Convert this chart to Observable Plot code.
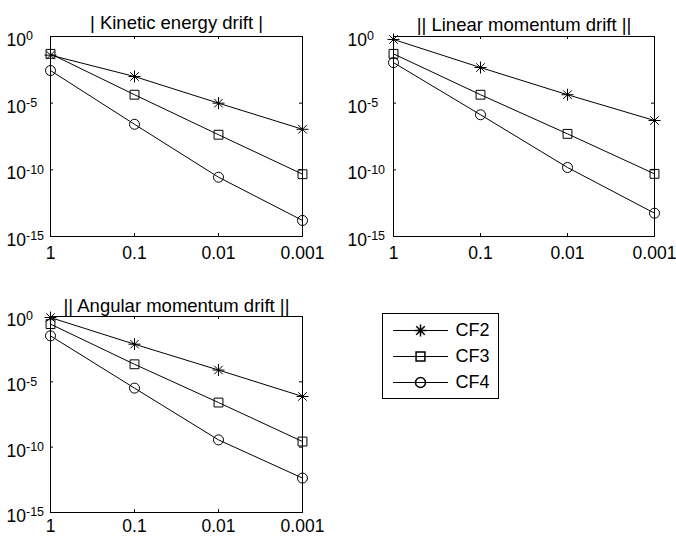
<!DOCTYPE html>
<html>
<head>
<meta charset="utf-8">
<script src="https://cdn.jsdelivr.net/npm/d3@7"></script>
<script src="https://cdn.jsdelivr.net/npm/@observablehq/plot@0.6"></script>
<style>
  body { margin: 0; background: white; }
  #wrap { position: relative; width: 676px; height: 538px; background: white; overflow: hidden; }
  #wrap > svg { position: absolute; }
</style>
</head>
<body>
<div id="wrap"></div>
<script>
// ---- data ----
const steps = [1, 0.1, 0.01, 0.001];
const stepLabels = ["1", "0.1", "0.01", "0.001"];
const series = ["CF2", "CF3", "CF4"];
const yTicks = [1, 1e-5, 1e-10, 1e-15];
const yTickExponents = ["0", "-5", "-10", "-15"];
const titles = ["| Kinetic energy drift |", "|| Linear momentum drift ||", "|| Angular momentum drift ||"];

const kineticCF2 = [4e-2, 1e-3, 1e-5, 1.1e-7];
const kineticCF3 = [5e-2, 4.3e-5, 4.3e-8, 4.7e-11];
const kineticCF4 = [2.8e-3, 2.6e-7, 2.8e-11, 1.6e-14];

const linearCF2 = [6e-1, 4.7e-3, 4.3e-5, 5e-7];
const linearCF3 = [5e-2, 4.3e-5, 5e-8, 5e-11];
const linearCF4 = [1.1e-2, 1.35e-6, 1.5e-10, 5.6e-14];

const angularCF2 = [8.3e-1, 7.6e-3, 8e-5, 7.6e-7];
const angularCF3 = [2.6e-1, 2.2e-4, 2.6e-7, 2.7e-10];
const angularCF4 = [3.3e-2, 3.3e-6, 3.6e-10, 4.3e-13];

// ---- build tables ----
function table(a, b, c) {
  const out = [];
  [a, b, c].forEach((vals, si) => vals.forEach((v, i) => out.push({series: series[si], step: steps[i], value: v})));
  return out;
}
const panels = [
  {title: titles[0], data: table(kineticCF2, kineticCF3, kineticCF4), left: 0, top: 0, w: 338, h: 270, mL: 50, mR: 36, mT: 36, mB: 34, titleDy: -21, xPad: 10, yLab: -44},
  {title: titles[1], data: table(linearCF2, linearCF3, linearCF4), left: 338, top: 0, w: 338, h: 270, mL: 55, mR: 22, mT: 36, mB: 34, titleDy: -19, xPad: 10, yLab: -46},
  {title: titles[2], data: table(angularCF2, angularCF3, angularCF4), left: 0, top: 270, w: 338, h: 268, mL: 50, mR: 36, mT: 46, mB: 26, titleDy: -18, xPad: 7, yLab: -44}
];

// MATLAB-like asterisk marker
const asterisk = {
  draw(context, size) {
    const r = Math.sqrt(size / Math.PI);
    const d = r * Math.SQRT1_2;
    context.moveTo(-r, 0); context.lineTo(r, 0);
    context.moveTo(0, -r); context.lineTo(0, r);
    context.moveTo(-d, -d); context.lineTo(d, d);
    context.moveTo(-d, d); context.lineTo(d, -d);
  }
};
const symbols = [asterisk, "square", "circle"];
const radii = [6, 5, 5];

const FONT = "'Liberation Sans', Arial, Helvetica, sans-serif";
const TICK_FS = 17.5;
const wrap = document.getElementById("wrap");

function superscripts(svg, xOffset) {
  svg.querySelectorAll('g[aria-label="y-axis tick label"] text').forEach(t => {
    const s = t.textContent;
    const parts = s.split("^");
    if (parts.length !== 2) return;
    while (t.firstChild) t.removeChild(t.firstChild);
    const ns = "http://www.w3.org/2000/svg";
    const base = document.createElementNS(ns, "tspan");
    base.textContent = parts[0];
    const exp = document.createElementNS(ns, "tspan");
    exp.textContent = parts[1];
    exp.setAttribute("dy", "-5.7");
    exp.setAttribute("font-size", "12.5px");
    t.appendChild(base);
    t.appendChild(exp);
    t.setAttribute("text-anchor", "start");
    t.setAttribute("x", xOffset);
  });
}

panels.forEach(p => {
  const pw = p.w - p.mL - p.mR;
  const ph = p.h - p.mT - p.mB;
  const marks = [
    Plot.frame({stroke: "black", strokeWidth: 1}),
    Plot.tickY(yTicks, {y: d => d, insetRight: pw - 3, stroke: "black"}),
    Plot.tickY(yTicks, {y: d => d, insetLeft: pw - 3, stroke: "black"}),
    Plot.tickX(steps, {x: d => d, insetTop: ph - 3, stroke: "black"}),
    Plot.tickX(steps, {x: d => d, insetBottom: ph - 3, stroke: "black"}),
    Plot.axisX({ticks: steps, tickSize: 0, tickPadding: p.xPad, label: null,
      tickFormat: d => stepLabels[steps.indexOf(d)], fontSize: TICK_FS}),
    Plot.axisY({ticks: yTicks, tickSize: 0, tickPadding: 0, dy: 4, label: null,
      tickFormat: d => "10^" + yTickExponents[yTicks.indexOf(d)], fontSize: TICK_FS}),
    Plot.line(p.data, {x: "step", y: "value", z: "series", stroke: "black", strokeWidth: 1}),
    ...series.map((s, i) => Plot.dot(p.data.filter(d => d.series === s), {
      x: "step", y: "value", symbol: symbols[i], r: radii[i], stroke: "black", fill: "none", strokeWidth: 1
    })),
    Plot.text([p.title], {text: d => d, frameAnchor: "top", dy: p.titleDy, fontSize: 18.5, fill: "black"})
  ];
  const svg = Plot.plot({
    width: p.w, height: p.h,
    marginLeft: p.mL, marginRight: p.mR, marginTop: p.mT, marginBottom: p.mB,
    style: {fontFamily: FONT, fontSize: TICK_FS + "px", color: "black", background: "transparent", overflow: "visible"},
    x: {type: "log", domain: [1, 0.001], label: null},
    y: {type: "log", domain: [1e-15, 1], label: null},
    marks
  });
  superscripts(svg, p.yLab);
  svg.style.left = p.left + "px";
  svg.style.top = p.top + "px";
  wrap.appendChild(svg);
});

// ---- legend ----
const legend = Plot.plot({
  width: 116, height: 85,
  margin: 0,
  style: {fontFamily: FONT, fontSize: "18px", color: "black", background: "white", overflow: "visible"},
  x: {domain: [0, 1], axis: null},
  y: {type: "point", domain: series, range: [16, 69], padding: 0, axis: null},
  marks: [
    Plot.frame({stroke: "black"}),
    Plot.ruleY(series, {y: d => d, insetLeft: 11, insetRight: 50, stroke: "black"}),
    ...series.map((s, i) => Plot.dot([s], {y: d => d, dx: -20, symbol: symbols[i], r: radii[i], stroke: "black", fill: "none"})),
    Plot.text(series, {y: d => d, text: d => d, frameAnchor: "left", dx: 73, textAnchor: "start", fontSize: 18, fill: "black"})
  ]
});
legend.style.left = "382px";
legend.style.top = "313px";
wrap.appendChild(legend);
</script>
</body>
</html>
